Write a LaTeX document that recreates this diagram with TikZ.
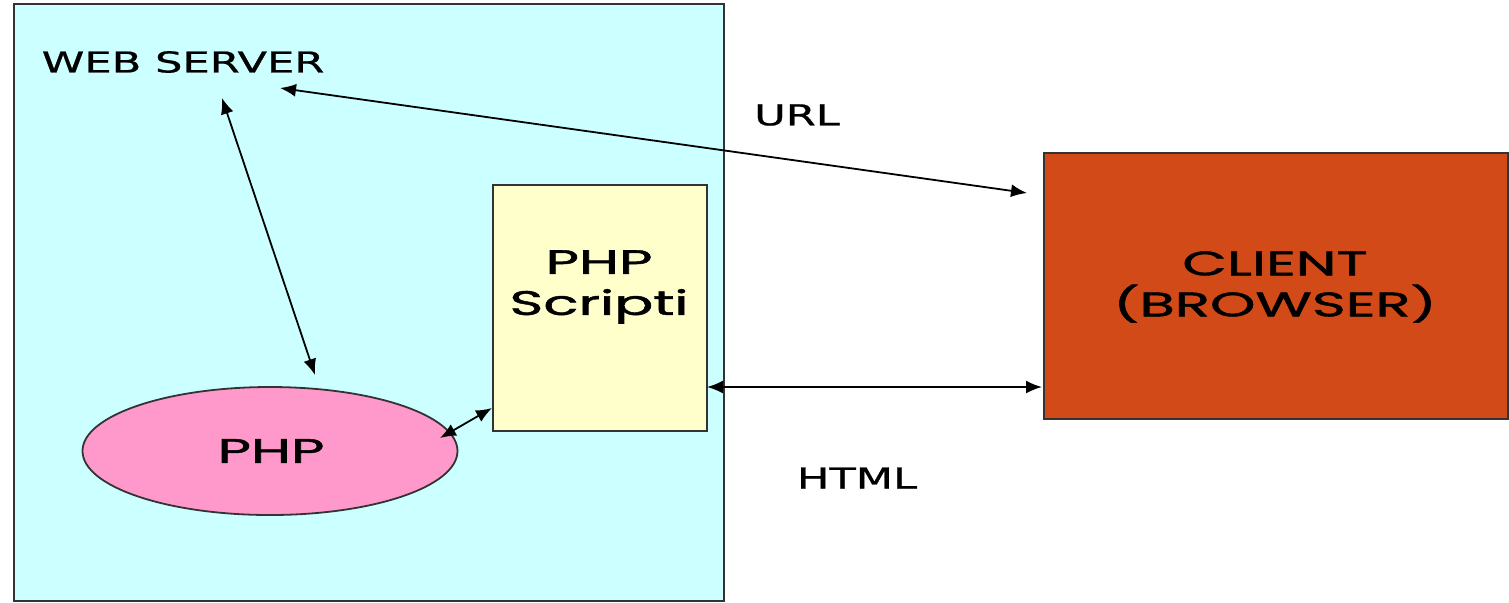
\documentclass[tikz,border=0pt]{standalone}
\usepackage{fontspec}
\setmainfont{DejaVu Sans}[FakeBold=0.6]
\newfontfamily\comicfont{Poppins}[FakeBold=1.2]
\usetikzlibrary{arrows.meta,shapes.geometric}
\definecolor{servercyan}{HTML}{CCFFFF}
\definecolor{scriptyellow}{HTML}{FFFFCC}
\definecolor{phppink}{HTML}{FF99CC}
\definecolor{clientorange}{HTML}{D24A18}
\newcommand{\widetxt}[1]{\scalebox{1.5}[1]{#1}}
\newcommand{\widecomic}[1]{\scalebox{1.7}[1]{#1}}
\begin{document}
\begin{tikzpicture}[x=0.5pt,y=-0.5pt,
  boxline/.style={draw=black!80,line width=0.9pt},
  plain/.style={font=\fontsize{14.4}{17}\selectfont,inner sep=0pt},
  comic/.style={font=\comicfont\fontsize{17}{20.5}\selectfont,align=center,inner sep=0pt},
  link/.style={line width=0.9pt,{Latex[length=8pt,width=6.5pt]}-{Latex[length=8pt,width=6.5pt]}}]
\useasboundingbox (0,0) rectangle (1509,602);
\fill[white] (0,0) rectangle (1509,602);
\node[boxline,fill=servercyan,rectangle,minimum width=355pt,minimum height=298.5pt,anchor=north west,inner sep=0pt] (server) at (13,3) {};
\node[boxline,fill=scriptyellow,rectangle,minimum width=107pt,minimum height=123pt,anchor=north west,inner sep=0pt] (script) at (492,184) {};
\node[boxline,fill=phppink,ellipse,minimum width=187.5pt,minimum height=64pt,inner sep=0pt] (php) at (270,451) {};
\node[boxline,fill=clientorange,rectangle,minimum width=232pt,minimum height=133pt,anchor=north west,inner sep=0pt] (client) at (1043,152) {};
\node[plain] (wstext) at (183,62) {\widetxt{WEB SERVER}};
\node[plain] (urltext) at (797,115) {\widetxt{URL}};
\node[plain] (htmltext) at (857,478) {\widetxt{HTML}};
\node[comic] (scripttext) at (599,287) {\widecomic{PHP}\\\widecomic{Scripti}};
\node[comic] (phptext) at (271,451) {\widecomic{PHP}};
\node[comic] (clienttext) at (1275,287) {\widecomic{CLIENT}\\\widecomic{(BROWSER)}};
\coordinate (wsA) at (280,88);
\coordinate (clA) at (1027,193);
\coordinate (wsB) at (222,98);
\coordinate (phpA) at (315,375);
\coordinate (phpB) at (440,438);
\coordinate (scA) at (492,408);
\coordinate (scB) at (707,387);
\coordinate (clB) at (1042,387);
\draw[link] (wsA) -- (clA);
\draw[link] (wsB) -- (phpA);
\draw[link] (phpB) -- (scA);
\draw[link] (scB) -- (clB);
\end{tikzpicture}
\end{document}
